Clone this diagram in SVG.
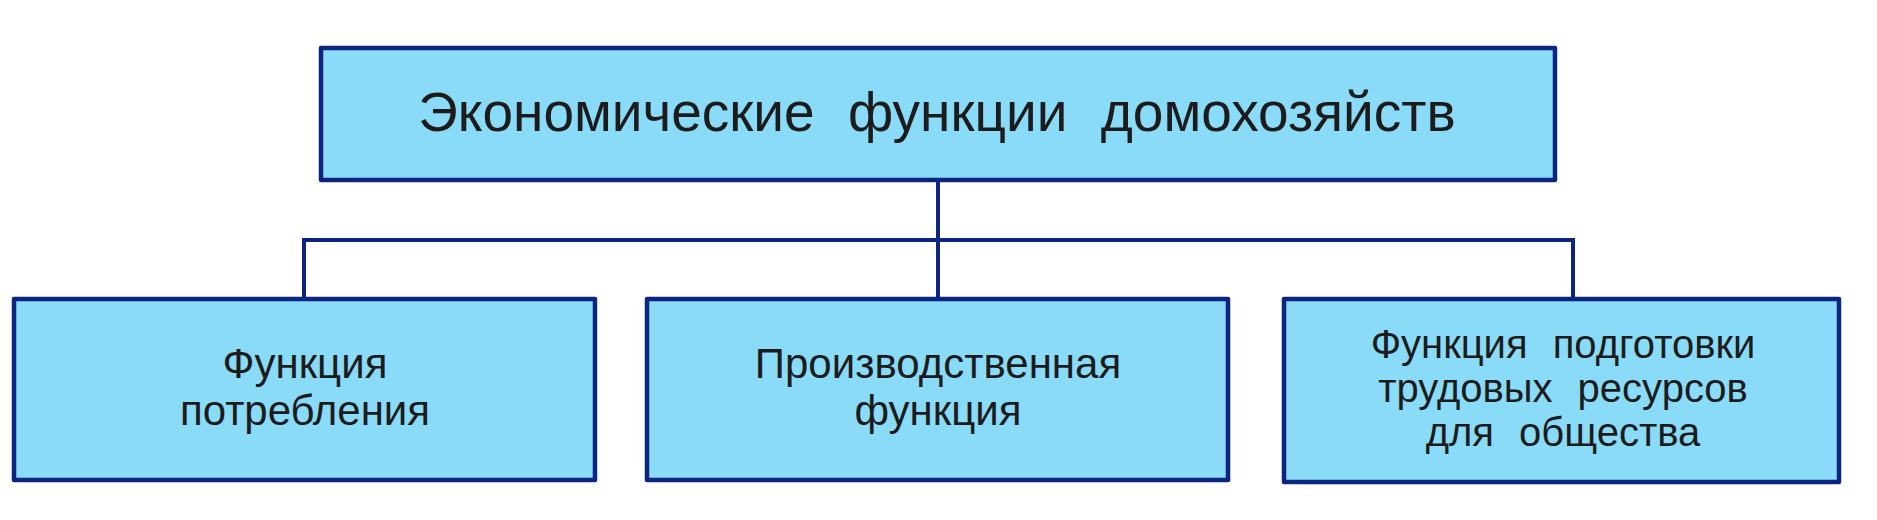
<svg xmlns="http://www.w3.org/2000/svg" width="1877" height="520" viewBox="0 0 1877 520">
<style>
.box{fill:#8adbf8;stroke:#0c2580;stroke-width:4.5;stroke-linejoin:round}
.con{fill:none;stroke:#0c2580;stroke-width:4}
.t{font-family:"Liberation Sans",Arial,sans-serif;fill:#1c1c1c;text-anchor:middle}
.t1{font-size:55px;word-spacing:18px}
.t2{font-size:42px}
.t3{font-size:40px;word-spacing:14px}
</style>
<rect width="1877" height="520" fill="#ffffff"/>
<g id="connectors">
<path class="con" d="M938 180 V299"/>
<path class="con" d="M304 299 V240 H1573 V299"/>
</g>
<g id="node-top">
<rect class="box" x="321" y="48" width="1234" height="132"/>
<text class="t t1" x="937" y="131">Экономические функции домохозяйств</text>
</g>
<g id="node-consumption">
<rect class="box" x="14" y="299" width="581" height="181"/>
<text class="t t2" x="305" y="378">Функция</text>
<text class="t t2" x="305" y="425">потребления</text>
</g>
<g id="node-production">
<rect class="box" x="647" y="299" width="581" height="181"/>
<text class="t t2" x="938" y="378">Производственная</text>
<text class="t t2" x="938" y="425">функция</text>
</g>
<g id="node-labor">
<rect class="box" x="1284" y="299" width="555" height="183"/>
<text class="t t3" x="1563" y="358">Функция подготовки</text>
<text class="t t3" x="1563" y="402">трудовых ресурсов</text>
<text class="t t3" x="1563" y="446">для общества</text>
</g>
</svg>
